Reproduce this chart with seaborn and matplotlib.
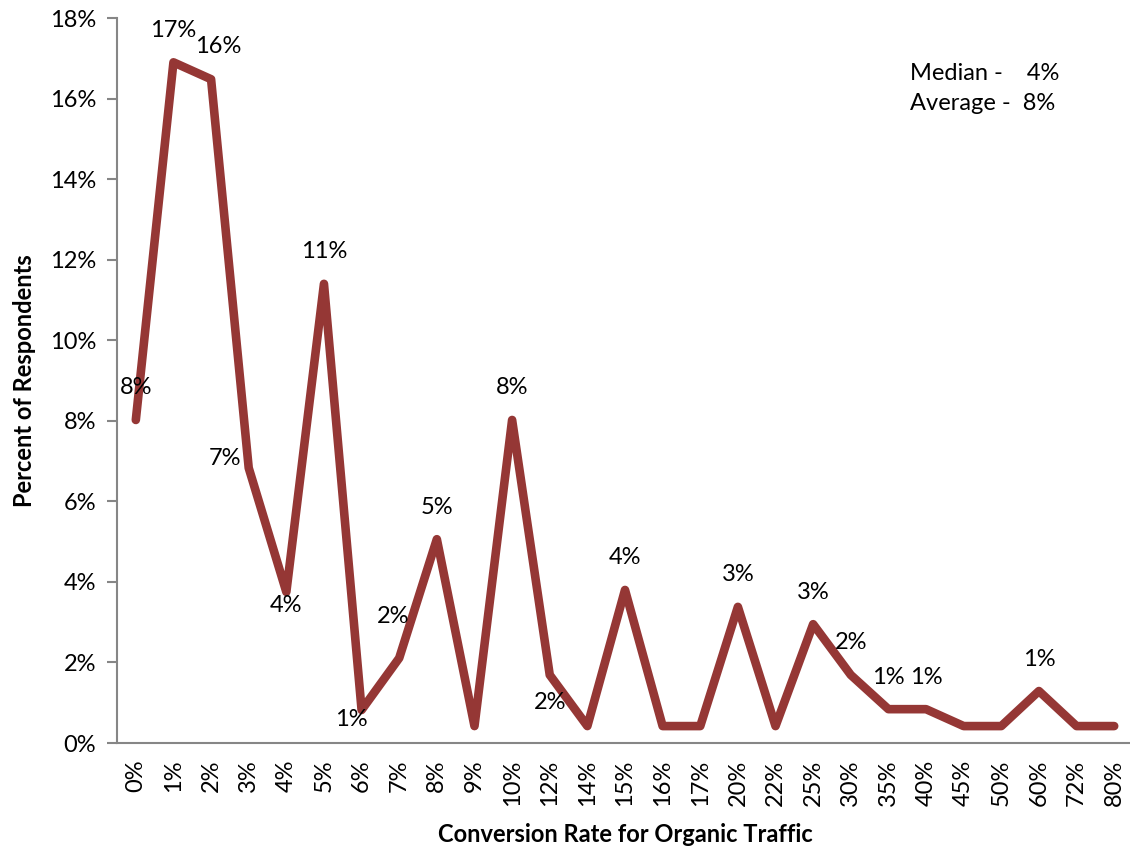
import numpy as np
import pandas as pd
import seaborn as sns
import matplotlib.pyplot as plt
from matplotlib.ticker import FuncFormatter

# data
rates = ["0%", "1%", "2%", "3%", "4%", "5%", "6%", "7%", "8%", "9%", "10%", "12%", "14%",
         "15%", "16%", "17%", "20%", "22%", "25%", "30%", "35%", "40%", "45%", "50%",
         "60%", "72%", "80%"]
respondents = [8.02, 16.9, 16.48, 6.83, 3.75, 11.4, 0.82, 2.11, 5.06, 0.42, 8.02, 1.69, 0.42,
               3.8, 0.42, 0.42, 3.38, 0.42, 2.95, 1.69, 0.84, 0.84, 0.42, 0.42,
               1.29, 0.42, 0.42]
labeled = [0, 1, 2, 3, 4, 5, 6, 7, 8, 10, 11, 13, 16, 18, 19, 20, 21, 24]
stats_lines = ["Median -    4%", "Average -  8%"]

# label offsets in pixels (dx, dy), default is straight above
label_offsets = {2: (7, 33), 3: (-24, 9), 4: (0, -14), 6: (-10, -10), 7: (-6, 42), 11: (0, -28)}

df = pd.DataFrame({"rate": rates, "pct": respondents})

sns.set_style("white")
plt.rcParams['font.family'] = ['Lato', 'DejaVu Sans']
plt.rcParams['text.color'] = 'black'
plt.rcParams['axes.labelcolor'] = 'black'
plt.rcParams['xtick.color'] = 'black'
plt.rcParams['ytick.color'] = 'black'

fig = plt.figure(figsize=(11.3, 8.46), dpi=100)
ax = fig.add_axes([117 / 1130, 103 / 846, 1016 / 1130, 725 / 846])

line_color = "#953735"
sns.lineplot(data=df, x="rate", y="pct", sort=False, color=line_color, linewidth=6.2,
             solid_joinstyle="round", solid_capstyle="round", ax=ax)

fs = 17
for i in labeled:
    dx, dy = label_offsets.get(i, (0, 32))
    ax.annotate(f"{round(respondents[i])}%", (i, respondents[i]),
                xytext=(dx * 0.72, dy * 0.72), textcoords="offset points",
                ha="center", va="center", fontsize=fs, color="black")

ax.set_xlim(-0.5, len(rates) - 0.5)
ax.set_ylim(0, 18)
ax.set_yticks(np.arange(0, 19, 2))
ax.yaxis.set_major_formatter(FuncFormatter(lambda v, p: f"{v:.0f}%"))
ax.set_xticks(range(len(rates)))
ax.set_xticklabels(rates, rotation=90)

ax.tick_params(axis="y", length=7, width=1.5, color="#868686", labelcolor="black",
               labelsize=fs, pad=8, left=True)
ax.tick_params(axis="x", length=0, labelsize=fs, labelcolor="black", pad=12)

sns.despine(ax=ax)
for side in ["left", "bottom"]:
    ax.spines[side].set_color("#868686")
    ax.spines[side].set_linewidth(1.5)

ax.set_xlabel("Conversion Rate for Organic Traffic", fontsize=fs, fontweight="bold", labelpad=12)
ax.set_ylabel("Percent of Respondents", fontsize=fs, fontweight="bold", labelpad=10)

fig.text(910 / 1130, 1 - 73 / 846, stats_lines[0], fontsize=fs, va="center", ha="left")
fig.text(910 / 1130, 1 - 104 / 846, stats_lines[1], fontsize=fs, va="center", ha="left")

plt.savefig("out.png", dpi=100)
